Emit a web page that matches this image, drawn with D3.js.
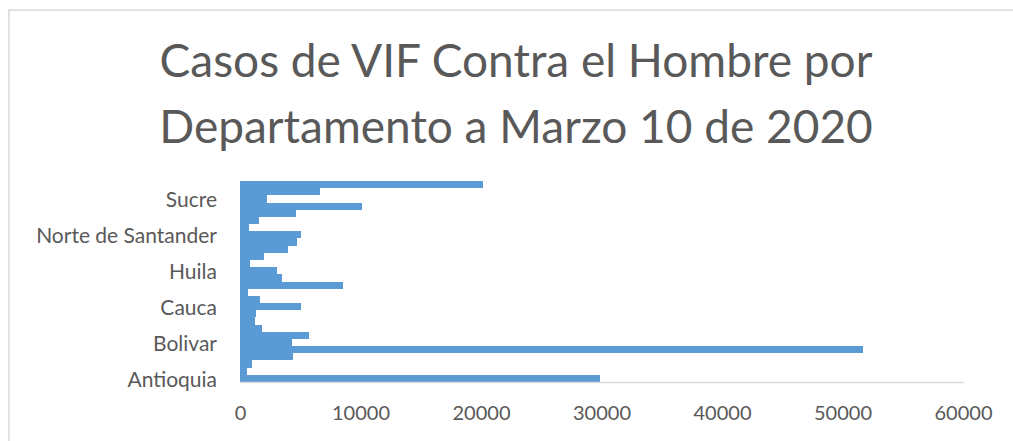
<!DOCTYPE html>
<html>
<head>
<meta charset="utf-8">
<script src="https://cdn.jsdelivr.net/npm/d3@7"></script>
<style>
    body { margin: 0; background: #fff; }
    .axis text { font-family: Lato, "Open Sans", sans-serif; fill: #595959; }
</style>
</head>
<body>
<div id="chart-area"></div>
<script>

// departamentos, de abajo hacia arriba
var departamentos = ["Antioquia", "Arauca", "San Andres", "Atlantico", "Bogota", "Bolivar",
    "Boyaca", "Caldas", "Caqueta", "Casanare", "Cauca", "Cesar", "Choco", "Cordoba",
    "Cundinamarca", "Huila", "La Guajira", "Magdalena", "Meta", "Narino",
    "Norte de Santander", "Putumayo", "Quindio", "Risaralda", "Santander", "Sucre",
    "Tolima", "Valle del Cauca"];

var casos = [29900, 550, 970, 4370, 51700, 4320, 5760, 1800, 1250, 1330, 5070, 1660, 690,
    8580, 3460, 3050, 860, 1970, 4010, 4700, 5070, 720, 1550, 4650, 10100, 2200, 6600, 20200];

var etiquetas = ["Antioquia", "Bolivar", "Cauca", "Huila", "Norte de Santander", "Sucre"];
var xTicks = [0, 10000, 20000, 30000, 40000, 50000, 60000];
var tituloLineas = ["Casos de VIF Contra el Hombre por", "Departamento a Marzo 10 de 2020"];


BarChart = function(_parentElement, _data){
    this.parentElement = _parentElement;
    this.data = _data;
    this.initVis();
}

BarChart.prototype.initVis = function(){
    var vis = this;

    vis.width = 1013;
    vis.height = 441;
    vis.plot = {left: 240, right: 963, top: 181, bottom: 382};

    vis.svg = d3.select("#" + vis.parentElement).append("svg")
        .attr("width", vis.width)
        .attr("height", vis.height);

    // borde del grafico
    vis.svg.append("rect")
        .attr("x", 9)
        .attr("y", 10)
        .attr("width", 1030)
        .attr("height", 460)
        .attr("fill", "none")
        .attr("stroke", "#d9d9d9")
        .attr("stroke-width", 1.5);

    vis.svg.selectAll(".title")
        .data(tituloLineas)
        .enter().append("text")
        .attr("class", "title")
        .attr("x", 516)
        .attr("y", function(d, i) { return 77 + i * 66; })
        .attr("text-anchor", "middle")
        .style("font-family", "Lato, 'Open Sans', sans-serif")
        .style("font-size", "46px")
        .style("fill", "#595959")
        .text(function(d) { return d; });

    vis.x = d3.scaleLinear()
        .domain([0, 60000])
        .range([vis.plot.left, vis.plot.right]);

    vis.y = d3.scaleBand()
        .domain(vis.data.map(function(d) { return d.dep; }))
        .range([vis.plot.bottom, vis.plot.top])
        .padding(0);

    vis.wrangleData();
}

BarChart.prototype.wrangleData = function(){
    var vis = this;
    vis.updateVis();
}

BarChart.prototype.updateVis = function(){
    var vis = this;

    vis.svg.selectAll(".bar")
        .data(vis.data)
        .enter().append("rect")
        .attr("class", "bar")
        .attr("x", vis.x(0))
        .attr("y", function(d) { return vis.y(d.dep); })
        .attr("width", function(d) { return vis.x(d.casos) - vis.x(0); })
        .attr("height", vis.y.bandwidth())
        .attr("fill", "#5b9bd5")
        .attr("shape-rendering", "crispEdges");

    vis.xAxis = d3.axisBottom(vis.x)
        .tickValues(xTicks)
        .tickFormat(d3.format("d"))
        .tickSize(0)
        .tickPadding(24);

    vis.yAxis = d3.axisLeft(vis.y)
        .tickValues(etiquetas)
        .tickSize(0)
        .tickPadding(23);

    vis.xGroup = vis.svg.append("g")
        .attr("class", "axis x-axis")
        .attr("transform", "translate(0," + vis.plot.bottom + ")")
        .call(vis.xAxis);

    vis.xGroup.select(".domain").attr("stroke", "#d9d9d9").attr("stroke-width", 1.5);
    vis.xGroup.selectAll("text").style("font-size", "20px");

    vis.yGroup = vis.svg.append("g")
        .attr("class", "axis y-axis")
        .attr("transform", "translate(" + vis.plot.left + ",0)")
        .call(vis.yAxis);

    vis.yGroup.select(".domain").remove();
    vis.yGroup.selectAll("text")
        .style("font-size", "21px")
        .attr("dy", "0.4em");
}

var data = departamentos.map(function(d, i) { return {dep: d, casos: casos[i]}; });
var chart = new BarChart("chart-area", data);

</script>
</body>
</html>
